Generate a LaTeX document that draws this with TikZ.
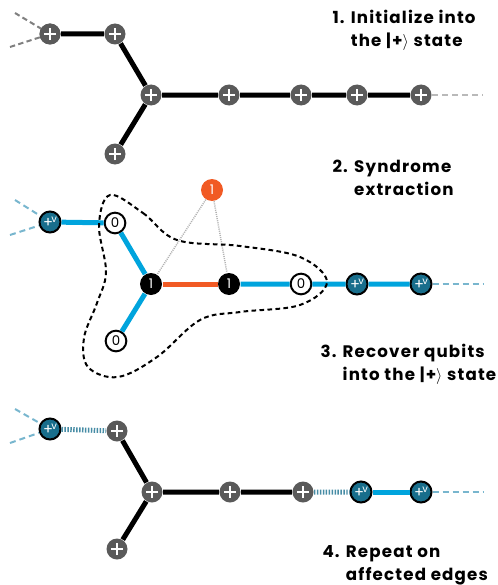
\documentclass[tikz,border=0pt]{standalone}
\usepackage{fontspec}
\setmainfont{Poppins}
\newfontfamily\capfont{Poppins}[LetterSpace=7]
\definecolor{qgray}{RGB}{90,90,90}
\definecolor{qblue}{RGB}{0,164,221}
\definecolor{qteal}{RGB}{24,110,140}
\definecolor{qorange}{RGB}{241,90,36}
\definecolor{qdash}{RGB}{120,182,206}
\definecolor{qstripe}{RGB}{70,140,165}
\newcommand{\plusv}{\raisebox{-1.5pt}{\fontsize{11}{11}\selectfont +}\hspace{-1.4pt}\raisebox{2.6pt}{\fontsize{7.5}{7.5}\selectfont v}}

\tikzset{every picture/.style={line width=0.75pt}}
\tikzset{
  plusq/.style={circle,fill=qgray,inner sep=0pt,minimum size=15.75pt,
    path picture={\draw[white,line width=1.1pt]
      ([xshift=-4.6pt]path picture bounding box.center) -- ([xshift=4.6pt]path picture bounding box.center)
      ([yshift=-4.6pt]path picture bounding box.center) -- ([yshift=4.6pt]path picture bounding box.center);}},
  vq/.style={circle,draw=black,line width=1.5pt,fill=qteal,inner sep=0pt,minimum size=15.75pt,
    text=white,font=\fontsize{9}{9}\selectfont},
  zeroq/.style={circle,draw=black,line width=1.5pt,fill=white,inner sep=0pt,minimum size=15.5pt,
    font=\fontsize{10}{10}\selectfont},
  oneq/.style={circle,fill=black,inner sep=0pt,minimum size=16.5pt,text=white,
    font=\fontsize{10}{10}\selectfont},
  ancq/.style={circle,fill=qorange,inner sep=0pt,minimum size=16.5pt,text=white,
    font=\fontsize{10}{10}\selectfont},
  bk/.style={line width=3.75pt},
  bl/.style={qblue,line width=3.75pt},
  orl/.style={qorange,line width=3.75pt},
  stripe/.style={qstripe,line width=3.75pt,dash pattern=on 1.1pt off 1.1pt},
  grdash/.style={gray,line width=1.5pt,dash pattern=on 4pt off 2.5pt},
  lgdash/.style={gray!55,line width=1.5pt,dash pattern=on 4.5pt off 3pt},
  bldash/.style={qdash,line width=1.5pt,dash pattern=on 4.5pt off 3pt},
  steptext/.style={anchor=north west,align=left,inner sep=0pt,
    font=\capfont\fontsize{12.5}{17}\selectfont\bfseries},
}

\begin{document}
\begin{tikzpicture}[x=0.75pt,y=0.75pt,yscale=-1,xscale=1]
\useasboundingbox (0,0) rectangle (498,585);

% 1. initialize
\node[plusq] (a1) at (50,34) {};
\node[plusq] (b1) at (115,34) {};
\node[plusq] (c1) at (151,95) {};
\node[plusq] (d1) at (115,154) {};
\node[plusq] (e1) at (229,95) {};
\node[plusq] (f1) at (301,95) {};
\node[plusq] (g1) at (357,95) {};
\node[plusq] (h1) at (421,95) {};
\coordinate (l1a) at (15,13);
\coordinate (l1b) at (10,47);
\coordinate (r1) at (483,95);
\draw[bk] (a1) -- (b1) (b1) -- (c1) (c1) -- (d1) (c1) -- (e1) (e1) -- (f1) (f1) -- (g1) (g1) -- (h1);
\draw[grdash] (l1a) -- (a1.center) (l1b) -- (a1.center);
\draw[lgdash] (h1) -- (r1);
\node[plusq] at (a1) {};

% 2. syndrome extraction
\node[vq] (a2) at (50,222) {\plusv};
\node[zeroq] (b2) at (115,223) {0};
\node[oneq] (c2) at (151,284) {1};
\node[zeroq] (d2) at (116,341) {0};
\node[oneq] (e2) at (229,284) {1};
\node[zeroq] (f2) at (301,284) {0};
\node[vq] (g2) at (357,284) {\plusv};
\node[vq] (h2) at (421,284) {\plusv};
\node[ancq] (s2) at (212,190) {1};
\coordinate (l2a) at (15,200);
\coordinate (l2b) at (10,235);
\coordinate (r2) at (483,284);
\draw[bl] (a2) -- (b2) (b2) -- (c2) (c2) -- (d2) (e2) -- (f2) (f2) -- (g2) (g2) -- (h2);
\draw[orl] (c2) -- (e2);
\draw[gray!60,line width=1.1pt,dash pattern=on 0.8pt off 0.8pt] (s2) -- (c2) (s2) -- (e2);
\draw[bldash] (l2a) -- (a2) (l2b) -- (a2);
\draw[bldash] (h2) -- (r2);
%Curve Lines: cluster
\draw[line width=1.5pt,dash pattern=on 3.5pt off 2.5pt] plot[smooth cycle,tension=0.6] coordinates {
  (110,195) (143,213) (177,240) (240,246) (300,257) (327,282) (300,305)
  (240,312) (200,320) (157,357) (118,377) (88,367) (84,338) (97,303) (106,272) (99,225)};

% 3. recovered
\node[vq] (a3) at (50,429) {\plusv};
\node[plusq] (b3) at (117,431) {};
\node[plusq] (c3) at (152,492) {};
\node[plusq] (d3) at (117,549) {};
\node[plusq] (e3) at (230,492) {};
\node[plusq] (f3) at (303,492) {};
\node[vq] (g3) at (361,492) {\plusv};
\node[vq] (h3) at (421,492) {\plusv};
\coordinate (l3a) at (15,409);
\coordinate (l3b) at (10,443);
\coordinate (r3) at (483,492);
\draw[stripe] (a3) -- (b3) (f3) -- (g3);
\draw[bk] (b3) -- (c3) (c3) -- (d3) (c3) -- (e3) (e3) -- (f3);
\draw[bl] (g3) -- (h3);
\draw[bldash] (l3a) -- (a3) (l3b) -- (a3);
\draw[bldash] (h3) -- (r3);

% captions
\node[steptext] (t1) at (332,10) {1. Initialize into\\\phantom{1. }the |+$\rangle$ state};
\node[steptext] (t2) at (332,160) {2. Syndrome\\\phantom{2. }extraction};
\node[steptext] (t3) at (320,344) {3. Recover qubits\\\phantom{3. }into the |+$\rangle$ state};
\node[steptext] (t4) at (322,545) {4. Repeat on\\\phantom{4. }affected edges};

\end{tikzpicture}
\end{document}
